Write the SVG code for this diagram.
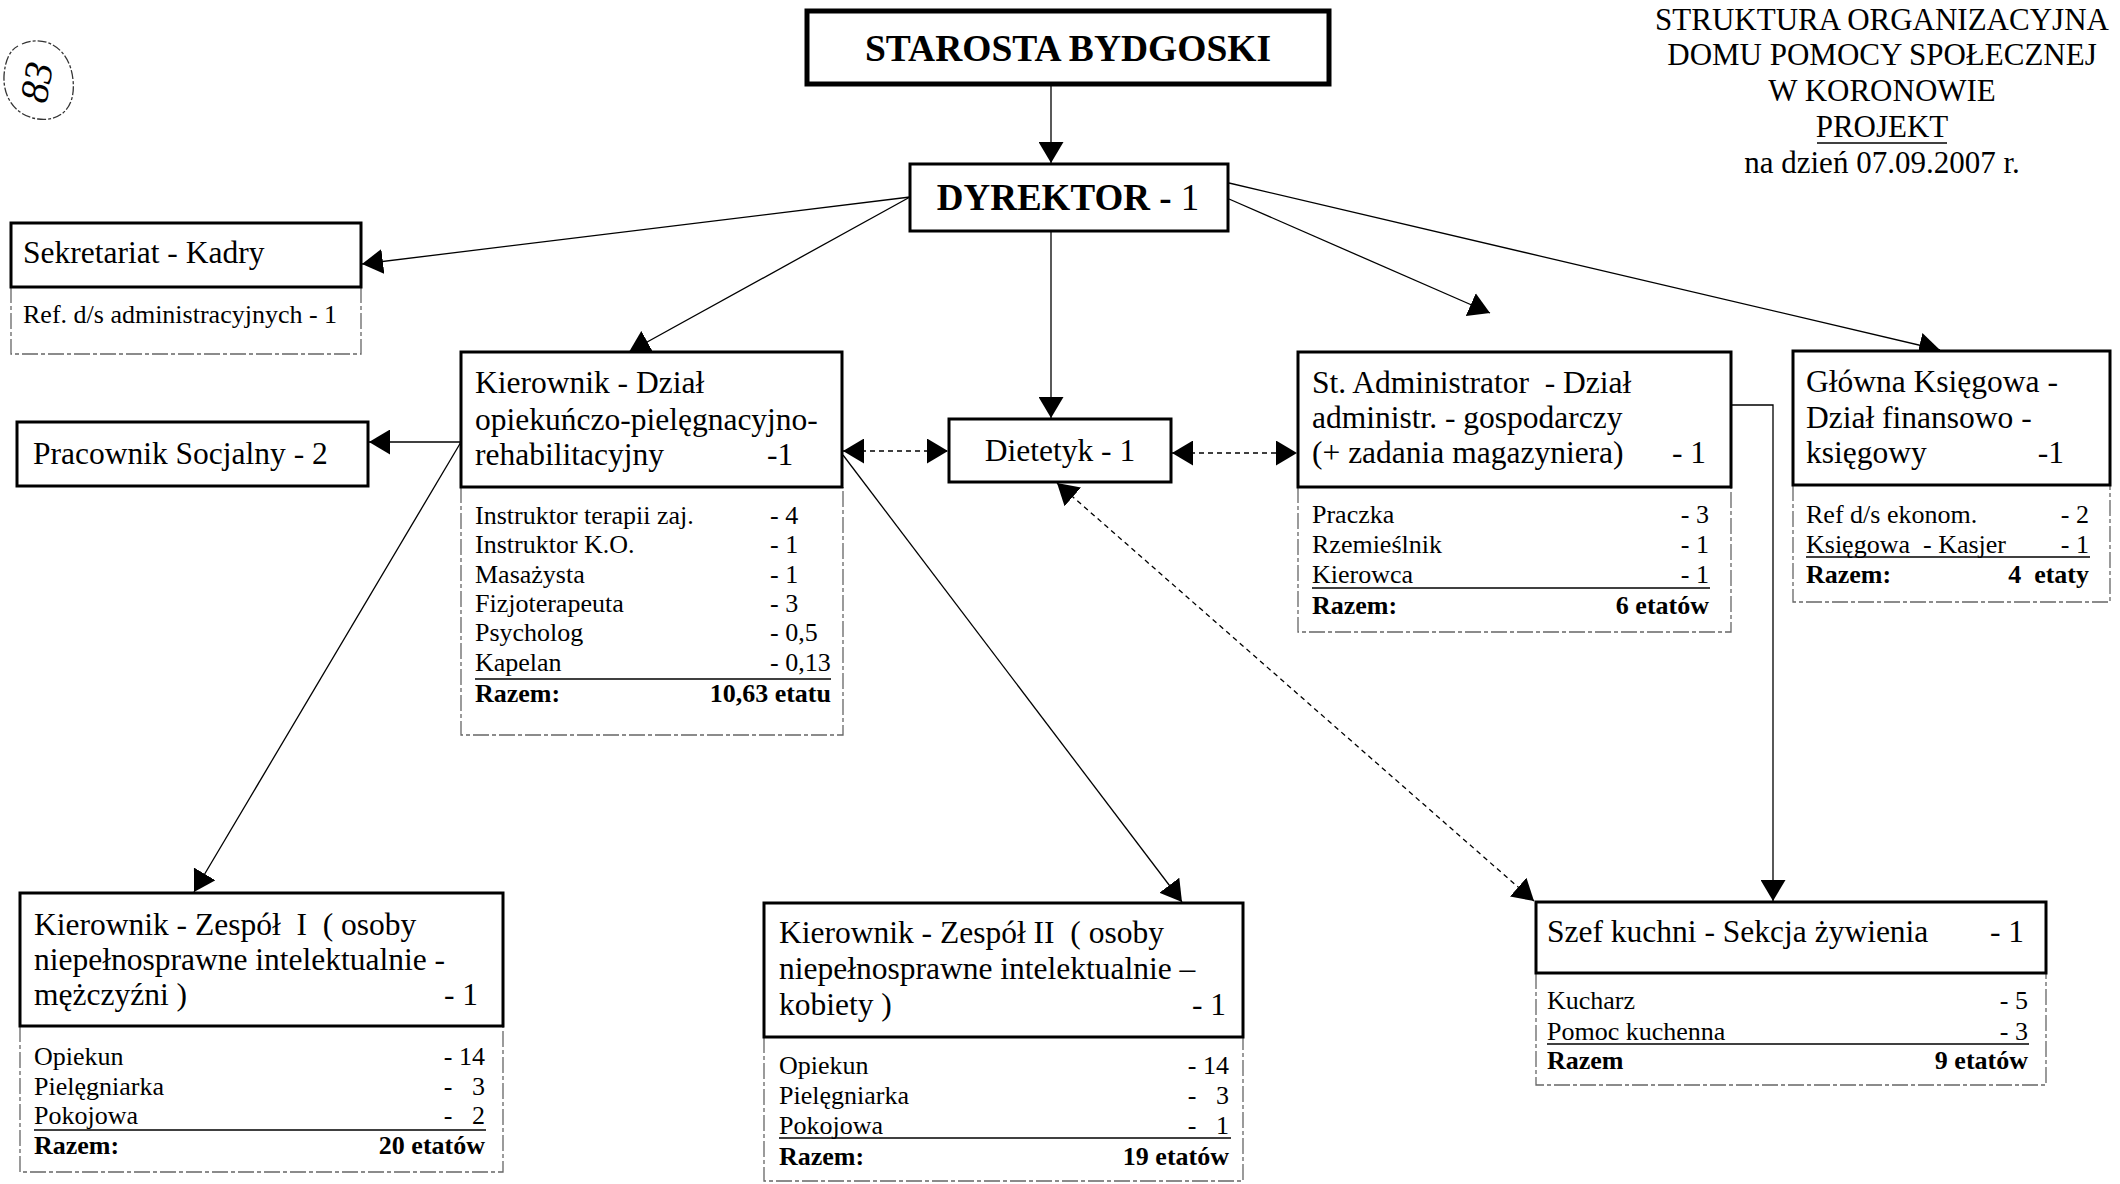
<svg xmlns="http://www.w3.org/2000/svg" width="2120" height="1184" viewBox="0 0 2120 1184">
<style>
text{font-family:"Liberation Serif","Times New Roman",serif;fill:#000}
.t{font-size:31.5px}
.s{font-size:26px}
.b{font-weight:bold}
.e{text-anchor:end}
.m{text-anchor:middle}
.box{fill:#fff;stroke:#000;stroke-width:3}
.sub{fill:none;stroke:#666;stroke-width:1.3;stroke-dasharray:16 3 4 3}
.ul{stroke:#000;stroke-width:1.5}
.c{fill:none;stroke:#000;stroke-width:1.3}
.a{marker-end:url(#ah)}
.d{fill:none;stroke:#000;stroke-width:1.3;stroke-dasharray:5 4;marker-start:url(#ah);marker-end:url(#ah)}
</style>
<defs>
<marker id="ah" viewBox="0 0 21 25" refX="21" refY="12.5" markerWidth="21" markerHeight="25" markerUnits="userSpaceOnUse" orient="auto-start-reverse">
<path d="M0,0 L21,12.5 L0,25 z" fill="#000"/>
</marker>
</defs>
<rect width="2120" height="1184" fill="#fff"/>

<g id="mark83">
<path d="M22,44 C45,34 70,48 73,80 C76,108 60,122 38,119 C16,116 3,98 4,76 C5,60 10,50 18,46" fill="none" stroke="#333" stroke-width="1.3" stroke-dasharray="9 2 3 2"/>
<text x="36" y="96" transform="rotate(-80 36 82)" class="m" style="font-size:40px;font-style:italic">83</text>
</g>

<g id="title">
<text x="1882" y="30" class="m" style="font-size:31px">STRUKTURA ORGANIZACYJNA</text>
<text x="1882" y="65" class="m" style="font-size:31px">DOMU POMOCY SPOŁECZNEJ</text>
<text x="1882" y="101" class="m" style="font-size:31px">W KORONOWIE</text>
<text x="1882" y="137" class="m" style="font-size:31px">PROJEKT</text>
<line x1="1817" y1="143" x2="1947" y2="143" class="ul"/>
<text x="1882" y="173" class="m" style="font-size:31px">na dzień 07.09.2007 r.</text>
</g>

<g id="connectors">
<line x1="1051" y1="84" x2="1051" y2="163" class="c a"/>
<line x1="910" y1="197" x2="362" y2="264" class="c a"/>
<line x1="910" y1="197" x2="629" y2="352" class="c a"/>
<line x1="1051" y1="231" x2="1051" y2="418" class="c a"/>
<line x1="1229" y1="199" x2="1490" y2="313" class="c a"/>
<line x1="1229" y1="183" x2="1940" y2="350" class="c a"/>
<line x1="461" y1="442" x2="369" y2="442" class="c a"/>
<line x1="461" y1="442" x2="194" y2="892" class="c a"/>
<line x1="843" y1="455" x2="1182" y2="902" class="c a"/>
<polyline points="1731,405 1773,405 1773,901" class="c a"/>
<line x1="843" y1="451" x2="948" y2="451" class="d"/>
<line x1="1172" y1="453" x2="1297" y2="453" class="d"/>
<line x1="1057" y1="483" x2="1534" y2="901" class="d"/>
</g>

<g id="starosta">
<rect x="807" y="11" width="522" height="73" fill="#fff" stroke="#000" stroke-width="5"/>
<text x="1068" y="61" class="m b" style="font-size:37.5px">STAROSTA BYDGOSKI</text>
</g>

<g id="dyrektor">
<rect x="910" y="164" width="318" height="67" class="box"/>
<text x="1068" y="210" class="m" style="font-size:37px"><tspan class="b">DYREKTOR - </tspan>1</text>
</g>

<g id="sekretariat">
<path d="M11,287 V354 H361 V287" class="sub"/>
<rect x="11" y="223" width="350" height="64" class="box"/>
<text x="23" y="263" class="t">Sekretariat - Kadry</text>
<text x="23" y="323" class="s">Ref. d/s administracyjnych - 1</text>
</g>

<g id="pracownik">
<rect x="17" y="422" width="351" height="64" class="box"/>
<text x="33" y="464" class="t">Pracownik Socjalny - 2</text>
</g>

<g id="kierownik-dzial">
<path d="M461,487 V735 H843 V487" class="sub"/>
<rect x="461" y="352" width="381" height="135" class="box"/>
<text x="475" y="393" class="t">Kierownik - Dział</text>
<text x="475" y="430" class="t">opiekuńczo-pielęgnacyjno-</text>
<text x="475" y="465" class="t">rehabilitacyjny</text>
<text x="767" y="465" class="t">-1</text>
<text x="475" y="524" class="s">Instruktor terapii zaj.</text><text x="770" y="524" class="s">- 4</text>
<text x="475" y="553" class="s">Instruktor K.O.</text><text x="770" y="553" class="s">- 1</text>
<text x="475" y="583" class="s">Masażysta</text><text x="770" y="583" class="s">- 1</text>
<text x="475" y="612" class="s">Fizjoterapeuta</text><text x="770" y="612" class="s">- 3</text>
<text x="475" y="641" class="s">Psycholog</text><text x="770" y="641" class="s">- 0,5</text>
<text x="475" y="671" class="s">Kapelan</text><text x="770" y="671" class="s">- 0,13</text>
<line x1="475" y1="679" x2="831" y2="679" class="ul"/>
<text x="475" y="702" class="s b">Razem:</text><text x="831" y="702" class="s b e">10,63 etatu</text>
</g>

<g id="dietetyk">
<rect x="949" y="419" width="222" height="63" class="box"/>
<text x="1060" y="461" class="t m">Dietetyk - 1</text>
</g>

<g id="administrator">
<path d="M1298,487 V632 H1731 V487" class="sub"/>
<rect x="1298" y="352" width="433" height="135" class="box"/>
<text x="1312" y="393" class="t" xml:space="preserve">St. Administrator  - Dział</text>
<text x="1312" y="428" class="t">administr. - gospodarczy</text>
<text x="1312" y="463" class="t">(+ zadania magazyniera)</text>
<text x="1706" y="463" class="t e">- 1</text>
<text x="1312" y="523" class="s">Praczka</text><text x="1709" y="523" class="s e">- 3</text>
<text x="1312" y="553" class="s">Rzemieślnik</text><text x="1709" y="553" class="s e">- 1</text>
<text x="1312" y="583" class="s">Kierowca</text><text x="1709" y="583" class="s e">- 1</text>
<line x1="1312" y1="588" x2="1710" y2="588" class="ul"/>
<text x="1312" y="614" class="s b">Razem:</text><text x="1709" y="614" class="s b e">6 etatów</text>
</g>

<g id="ksiegowa">
<path d="M1793,485 V602 H2110 V485" class="sub"/>
<rect x="1793" y="351" width="317" height="134" class="box"/>
<text x="1806" y="392" class="t">Główna Księgowa -</text>
<text x="1806" y="428" class="t">Dział finansowo -</text>
<text x="1806" y="463" class="t">księgowy</text>
<text x="2064" y="463" class="t e">-1</text>
<text x="1806" y="523" class="s">Ref d/s ekonom.</text><text x="2089" y="523" class="s e">- 2</text>
<text x="1806" y="553" class="s" xml:space="preserve">Księgowa  - Kasjer</text><text x="2089" y="553" class="s e">- 1</text>
<line x1="1806" y1="557" x2="2090" y2="557" class="ul"/>
<text x="1806" y="583" class="s b">Razem:</text><text x="2089" y="583" class="s b e" xml:space="preserve">4  etaty</text>
</g>

<g id="zespol1">
<path d="M20,1026 V1172 H503 V1026" class="sub"/>
<rect x="20" y="893" width="483" height="133" class="box"/>
<text x="34" y="935" class="t" xml:space="preserve">Kierownik - Zespół  I  ( osoby</text>
<text x="34" y="970" class="t">niepełnosprawne intelektualnie -</text>
<text x="34" y="1005" class="t">mężczyźni )</text>
<text x="478" y="1005" class="t e">- 1</text>
<text x="34" y="1065" class="s">Opiekun</text><text x="485" y="1065" class="s e">- 14</text>
<text x="34" y="1095" class="s">Pielęgniarka</text><text x="485" y="1095" class="s e" xml:space="preserve">-   3</text>
<text x="34" y="1124" class="s">Pokojowa</text><text x="485" y="1124" class="s e" xml:space="preserve">-   2</text>
<line x1="34" y1="1130" x2="486" y2="1130" class="ul"/>
<text x="34" y="1154" class="s b">Razem:</text><text x="485" y="1154" class="s b e">20 etatów</text>
</g>

<g id="zespol2">
<path d="M764,1037 V1181 H1243 V1037" class="sub"/>
<rect x="764" y="903" width="479" height="134" class="box"/>
<text x="779" y="943" class="t" xml:space="preserve">Kierownik - Zespół II  ( osoby</text>
<text x="779" y="979" class="t">niepełnosprawne intelektualnie –</text>
<text x="779" y="1015" class="t">kobiety )</text>
<text x="1226" y="1015" class="t e">- 1</text>
<text x="779" y="1074" class="s">Opiekun</text><text x="1229" y="1074" class="s e">- 14</text>
<text x="779" y="1104" class="s">Pielęgniarka</text><text x="1229" y="1104" class="s e" xml:space="preserve">-   3</text>
<text x="779" y="1134" class="s">Pokojowa</text><text x="1229" y="1134" class="s e" xml:space="preserve">-   1</text>
<line x1="779" y1="1138" x2="1231" y2="1138" class="ul"/>
<text x="779" y="1165" class="s b">Razem:</text><text x="1229" y="1165" class="s b e">19 etatów</text>
</g>

<g id="szef-kuchni">
<path d="M1536,973 V1085 H2046 V973" class="sub"/>
<rect x="1536" y="902" width="510" height="71" class="box"/>
<text x="1547" y="942" class="t">Szef kuchni - Sekcja żywienia</text>
<text x="2024" y="942" class="t e">- 1</text>
<text x="1547" y="1009" class="s">Kucharz</text><text x="2028" y="1009" class="s e">- 5</text>
<text x="1547" y="1040" class="s">Pomoc kuchenna</text><text x="2028" y="1040" class="s e">- 3</text>
<line x1="1547" y1="1044" x2="2029" y2="1044" class="ul"/>
<text x="1547" y="1069" class="s b">Razem</text><text x="2028" y="1069" class="s b e">9 etatów</text>
</g>
</svg>
